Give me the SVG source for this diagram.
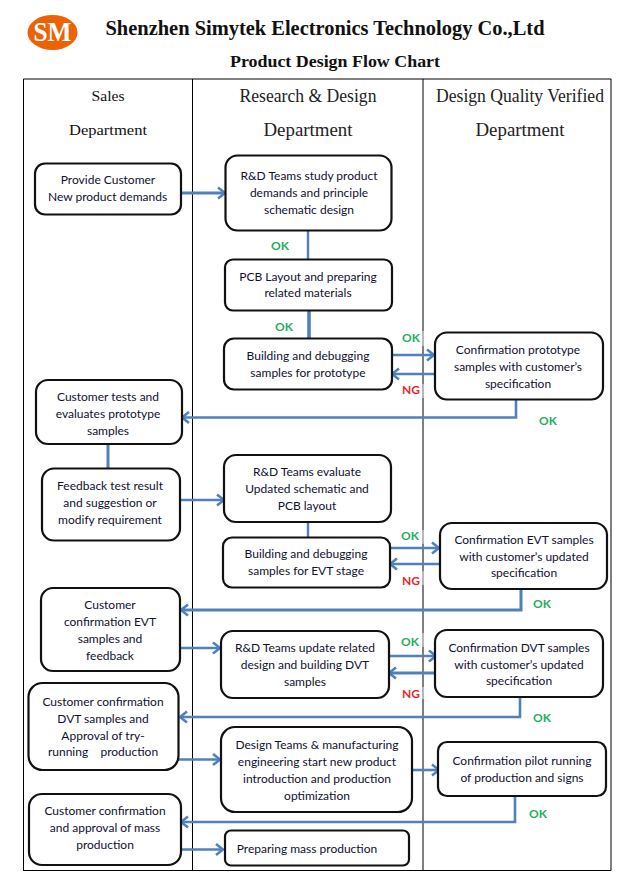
<svg xmlns="http://www.w3.org/2000/svg" width="631" height="884" viewBox="0 0 631 884">
<style>
text{font-family:"Lato","Noto Sans",sans-serif;font-size:12px;fill:#101030;text-anchor:middle}
.h{font-family:"Liberation Serif",serif;font-size:18px;fill:#222}
.s{font-family:"Liberation Serif",serif;font-size:15.500px;fill:#111}
.t{font-family:"Liberation Serif",serif;font-weight:bold;fill:#111}
.ok{fill:#1fae5c;font-weight:bold;font-size:12px}
.ng{fill:#f01c24;font-weight:bold;font-size:12px}
.n{fill:#fff;stroke:#111;stroke-width:2.2}
.c{fill:none;stroke:#4f81bd;stroke-width:2.400}
.a{fill:none;stroke:#4f81bd;stroke-width:2.600;marker-end:url(#m)}
.l{stroke:#000;stroke-width:1;fill:none}
.g{stroke:#ddd;stroke-width:1.200;fill:none}
</style>
<defs><marker id="m" markerUnits="userSpaceOnUse" markerWidth="12" markerHeight="14" refX="10" refY="7" orient="auto"><path d="M3 1.500L10 7L3 12.500" fill="none" stroke="#4f81bd" stroke-width="2.600"/></marker></defs>
<rect width="631" height="884" fill="#fff"/>
<g id="header">
<ellipse cx="52.500" cy="32.500" rx="25" ry="17.500" fill="#ee6206"/>
<text x="52.500" y="41" style="font-family:'Liberation Serif',serif;font-weight:bold;font-size:27px;fill:#fff" textLength="38" lengthAdjust="spacingAndGlyphs">SM</text>
<text class="t" x="325" y="35" style="font-size:20px" textLength="439" lengthAdjust="spacingAndGlyphs">Shenzhen Simytek Electronics Technology Co.,Ltd</text>
<text class="t" x="335" y="67" style="font-size:16px" textLength="210" lengthAdjust="spacingAndGlyphs">Product Design Flow Chart</text>
</g>
<g id="table">
<path class="l" d="M23.500 79H611M23.500 79V870.500M192.500 79V870.500M423 79V870.500M611 79V870.500M23 870.500H611"/>
<path class="g" d="M423 331V346M423 384V398M423 530V544M423 571V585M423 633V647M423 687V699"/>
<text class="s" x="108" y="101" textLength="33" lengthAdjust="spacingAndGlyphs">Sales</text>
<text class="s" x="108" y="135" textLength="78" lengthAdjust="spacingAndGlyphs">Department</text>
<text class="h" x="308" y="102" textLength="137" lengthAdjust="spacingAndGlyphs">Research &amp; Design</text>
<text class="h" x="308" y="136" textLength="89" lengthAdjust="spacingAndGlyphs">Department</text>
<text class="h" x="520" y="102" textLength="168" lengthAdjust="spacingAndGlyphs">Design Quality Verified</text>
<text class="h" x="520" y="136" textLength="89" lengthAdjust="spacingAndGlyphs">Department</text>
</g>
<g id="connectors">
<path class="a" style="stroke-width:3" d="M181 193H225"/>
<path class="c" d="M308 230V259"/>
<path class="c" style="stroke-width:3.600" d="M309 310V338"/>
<path class="a" d="M392 355H434"/>
<path class="a" d="M435 374H392"/>
<path class="a" d="M516 400V417.500H182"/>
<path class="c" d="M108 444V468" style="stroke-width:3"/>
<path class="a" d="M180 500H224"/>
<path class="c" d="M308 522V537"/>
<path class="a" d="M390 548H439"/>
<path class="a" d="M439 564H390"/>
<path class="a" style="stroke-width:3" d="M521 590V610H181"/>
<path class="a" d="M178 648H220"/>
<path class="a" d="M389 656H436"/>
<path class="a" style="stroke-width:3" d="M435 673H389"/>
<path class="a" d="M520 698V717H180"/>
<path class="a" d="M178 759.500H220"/>
<path class="a" d="M413 770H439"/>
<path class="a" d="M515 796V822H181"/>
<path class="a" d="M181 849.500H223"/>
</g>
<g id="labels">
<text class="ok" x="280" y="250">OK</text>
<text class="ok" x="284" y="331">OK</text>
<text class="ok" x="411" y="342">OK</text>
<text class="ng" x="411" y="394">NG</text>
<text class="ok" x="548" y="425">OK</text>
<text class="ok" x="410" y="540">OK</text>
<text class="ng" x="411" y="585">NG</text>
<text class="ok" x="542" y="608">OK</text>
<text class="ok" x="410" y="646">OK</text>
<text class="ng" x="411" y="698">NG</text>
<text class="ok" x="542" y="722">OK</text>
<text class="ok" x="538" y="818">OK</text>
</g>
<g id="n1"><rect class="n" x="35" y="163.500" width="146" height="51" rx="10"/><text x="108" y="184">Provide Customer</text><text x="107.500" y="201">New product demands</text></g>
<g id="n2"><rect class="n" x="225.500" y="155.500" width="166" height="75" rx="12"/><text x="309" y="180">R&amp;D Teams study product</text><text x="309" y="197">demands and principle</text><text x="309" y="214">schematic design</text></g>
<g id="n3"><rect class="n" x="225" y="259.500" width="167" height="51" rx="8"/><text x="308" y="281">PCB Layout and preparing</text><text x="308" y="297">related materials</text></g>
<g id="n4"><rect class="n" x="224" y="338.500" width="168" height="51" rx="10"/><text x="308" y="360">Building and debugging</text><text x="308" y="377">samples for prototype</text></g>
<g id="n5"><rect class="n" x="435" y="332.500" width="168" height="67" rx="12"/><text x="518" y="354">Confirmation prototype</text><text x="518" y="371">samples with customer’s</text><text x="518" y="388">specification</text></g>
<g id="n6"><rect class="n" x="36" y="380" width="146" height="64" rx="12"/><text x="108" y="401">Customer tests and</text><text x="108" y="418">evaluates prototype</text><text x="108" y="435">samples</text></g>
<g id="n7"><rect class="n" x="42" y="468.500" width="138" height="72" rx="12"/><text x="110" y="490">Feedback test result</text><text x="110" y="507">and suggestion or</text><text x="110" y="524">modify requirement</text></g>
<g id="n8"><rect class="n" x="224" y="455" width="167" height="67" rx="12"/><text x="307" y="476">R&amp;D Teams evaluate</text><text x="307" y="493">Updated schematic and</text><text x="307" y="510">PCB layout</text></g>
<g id="n9"><rect class="n" x="223" y="537.500" width="167" height="50" rx="9"/><text x="306" y="558">Building and debugging</text><text x="306" y="575">samples for EVT stage</text></g>
<g id="n10"><rect class="n" x="440" y="523" width="167" height="66" rx="12"/><text x="524" y="544">Confirmation EVT samples</text><text x="524" y="561">with customer’s updated</text><text x="524" y="577">specification</text></g>
<g id="n11"><rect class="n" x="41" y="588" width="139" height="83" rx="12"/><text x="110" y="609">Customer</text><text x="110" y="626">confirmation EVT</text><text x="110" y="643">samples and</text><text x="110" y="660">feedback</text></g>
<g id="n12"><rect class="n" x="221" y="631" width="168" height="67" rx="12"/><text x="305" y="652">R&amp;D Teams update related</text><text x="305" y="669">design and building DVT</text><text x="305" y="686">samples</text></g>
<g id="n13"><rect class="n" x="435" y="630" width="168" height="67" rx="12"/><text x="519" y="652">Confirmation DVT samples</text><text x="519" y="669">with customer’s updated</text><text x="519" y="685">specification</text></g>
<g id="n14"><rect class="n" x="28.500" y="683" width="150" height="87" rx="14"/><text x="103" y="706">Customer confirmation</text><text x="103" y="723">DVT samples and</text><text x="103" y="740">Approval of try-</text><text x="103" y="756" xml:space="preserve">running    production</text></g>
<g id="n15"><rect class="n" x="221" y="727" width="191" height="85" rx="14"/><text x="317" y="749">Design Teams &amp; manufacturing</text><text x="317" y="766">engineering start new product</text><text x="317" y="783">introduction and production</text><text x="317" y="800">optimization</text></g>
<g id="n16"><rect class="n" x="438" y="742" width="168" height="54" rx="9"/><text x="522" y="765">Confirmation pilot running</text><text x="522" y="782">of production and signs</text></g>
<g id="n17"><rect class="n" x="29" y="794" width="152" height="71" rx="13"/><text x="105" y="815">Customer confirmation</text><text x="105" y="832">and approval of mass</text><text x="105" y="849">production</text></g>
<g id="n18"><rect class="n" x="225" y="830.500" width="184" height="35" rx="6"/><text x="307" y="853">Preparing mass production</text></g>
</svg>
